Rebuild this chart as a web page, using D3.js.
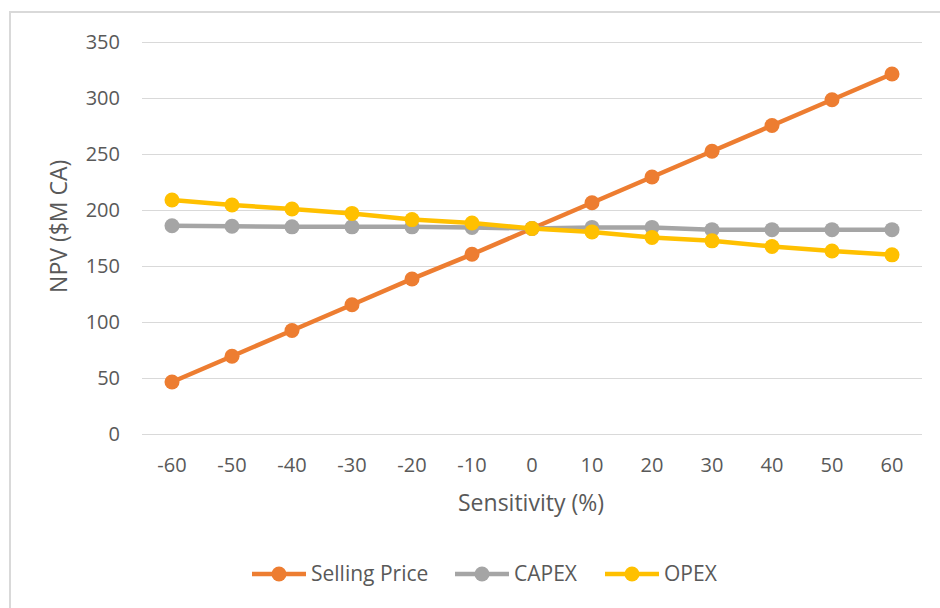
<!DOCTYPE html>
<html lang="en">
<head>
  <meta charset="UTF-8">
  <title>NPV Sensitivity</title>
  <script src="https://d3js.org/d3.v7.min.js"></script>
  <style>
    body {
      margin: 0;
      padding: 0;
      background: #ffffff;
    }
    svg {
      display: block;
      font-family: "Open Sans", sans-serif;
    }
    .tick-label {
      font-size: 20px;
      fill: #595959;
    }
    .axis-title {
      font-size: 23px;
      fill: #595959;
    }
    .legend-label {
      font-size: 21px;
      fill: #595959;
    }
  </style>
</head>
<body>
  <script>
    // Sensitivity categories (%)
    const sensitivity = [-60, -50, -40, -30, -20, -10, 0, 10, 20, 30, 40, 50, 60];

    // NPV ($M CA) per series
    const sellingPrice = [46, 69, 92, 115, 138, 160, 183, 206, 229, 252, 275, 298, 321];
    const capex = [185.5, 185, 184.5, 184.5, 184.5, 184, 183, 184, 184, 182, 182, 182, 182];
    const opex = [208.5, 204, 200.5, 196.5, 191, 188, 183, 180, 175, 172, 167, 163, 159.5];

    const yTicks = [0, 50, 100, 150, 200, 250, 300, 350];

    const seriesNames = ["Selling Price", "CAPEX", "OPEX"];
    const seriesColors = ["#ED7D31", "#A5A5A5", "#FFC000"];
    const seriesValues = [sellingPrice, capex, opex];

    const width = 940;
    const height = 608;
    const margin = { left: 142, right: 18, top: 41.5, bottom: 174.5 };

    const svg = d3.select("body")
      .append("svg")
      .attr("width", width)
      .attr("height", height);

    // outer chart border
    svg.append("rect")
      .attr("x", 10)
      .attr("y", 12)
      .attr("width", width + 20)
      .attr("height", height + 20)
      .attr("fill", "none")
      .attr("stroke", "#d9d9d9")
      .attr("stroke-width", 2);

    const x = d3.scalePoint()
      .domain(sensitivity)
      .range([margin.left, width - margin.right])
      .padding(0.5);

    const y = d3.scaleLinear()
      .domain([0, 350])
      .range([height - margin.bottom, margin.top]);

    // gridlines
    svg.append("g")
      .selectAll("line")
      .data(yTicks)
      .join("line")
      .attr("x1", margin.left)
      .attr("x2", width - margin.right)
      .attr("y1", d => Math.round(y(d)) + 0.5)
      .attr("y2", d => Math.round(y(d)) + 0.5)
      .attr("stroke", "#d9d9d9")
      .attr("stroke-width", 1);

    // y tick labels
    svg.append("g")
      .selectAll("text")
      .data(yTicks)
      .join("text")
      .attr("class", "tick-label")
      .attr("x", 120)
      .attr("y", d => y(d))
      .attr("dy", "0.35em")
      .attr("text-anchor", "end")
      .text(d => d);

    // x tick labels
    svg.append("g")
      .selectAll("text")
      .data(sensitivity)
      .join("text")
      .attr("class", "tick-label")
      .attr("x", d => x(d))
      .attr("y", 465)
      .attr("dy", "0.35em")
      .attr("text-anchor", "middle")
      .text(d => d);

    // axis titles
    svg.append("text")
      .attr("class", "axis-title")
      .attr("transform", `translate(67,${y(185)}) rotate(-90)`)
      .attr("text-anchor", "middle")
      .text("NPV ($M CA)");

    svg.append("text")
      .attr("class", "axis-title")
      .attr("x", 531)
      .attr("y", 503)
      .attr("dy", "0.35em")
      .attr("text-anchor", "middle")
      .text("Sensitivity (%)");

    // series lines and markers
    const line = d3.line()
      .x((d, i) => x(sensitivity[i]))
      .y(d => y(d));

    seriesValues.forEach((vals, s) => {
      const g = svg.append("g");
      g.append("path")
        .datum(vals)
        .attr("d", line)
        .attr("fill", "none")
        .attr("stroke", seriesColors[s])
        .attr("stroke-width", 4.5)
        .attr("stroke-linejoin", "round");
      g.selectAll("circle")
        .data(vals)
        .join("circle")
        .attr("cx", (d, i) => x(sensitivity[i]))
        .attr("cy", d => y(d))
        .attr("r", 7.5)
        .attr("fill", seriesColors[s]);
    });

    // legend
    const legendX = [252, 455, 605];
    const legendY = 574;
    const legend = svg.append("g")
      .selectAll("g")
      .data(seriesNames)
      .join("g")
      .attr("transform", (d, i) => `translate(${legendX[i]},${legendY})`);

    legend.append("line")
      .attr("x1", 0)
      .attr("x2", 54)
      .attr("stroke", (d, i) => seriesColors[i])
      .attr("stroke-width", 4.5);

    legend.append("circle")
      .attr("cx", 27)
      .attr("r", 7.5)
      .attr("fill", (d, i) => seriesColors[i]);

    legend.append("text")
      .attr("class", "legend-label")
      .attr("x", 59)
      .attr("dy", "0.35em")
      .text(d => d);
  </script>
</body>
</html>
